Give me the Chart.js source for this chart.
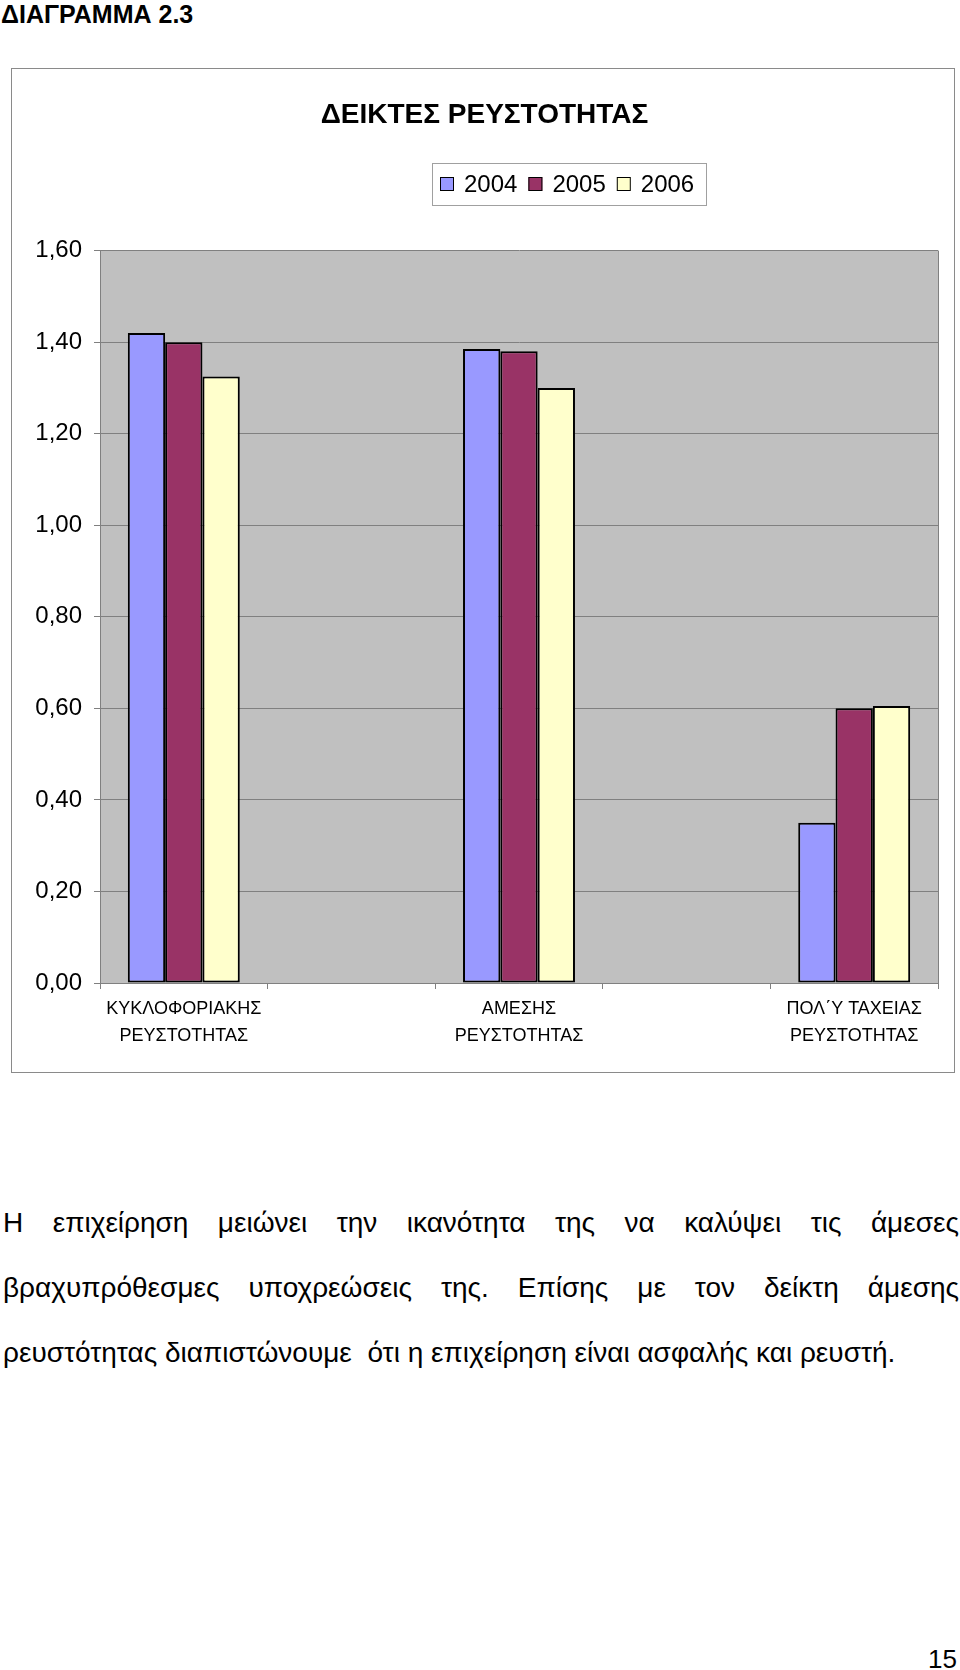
<!DOCTYPE html>
<html lang="el">
<head>
<meta charset="utf-8">
<title>ΔΙΑΓΡΑΜΜΑ 2.3</title>
<script src="https://cdn.jsdelivr.net/npm/chart.js@4.4.1/dist/chart.umd.min.js"></script>
<style>
  html, body { margin: 0; padding: 0; background: #fff; }
  body { width: 960px; height: 1670px; position: relative; font-family: "Liberation Sans", Arial, sans-serif; color: #000; }
  #heading { position: absolute; left: 1px; top: 1px; font-size: 25px; line-height: 26px; font-weight: bold; }
  #chart-box { position: absolute; left: 11px; top: 68px; width: 944px; height: 1005px; border: 1px solid #8a8a8a; box-sizing: border-box; }
  #chart-box canvas { display: block; }
  #text { position: absolute; left: 3px; top: 1190px; width: 956px; font-size: 28px; line-height: 65px; }
  #text .j { text-align: justify; text-align-last: justify; }
  #page { position: absolute; right: 3px; top: 1644px; font-size: 26px; line-height: 30px; }
</style>
</head>
<body>
<div id="heading">ΔΙΑΓΡΑΜΜΑ 2.3</div>
<div id="chart-box"><canvas id="chartLiquidity" width="942" height="1003"></canvas></div>
<div id="text">
  <div class="j">Η επιχείρηση μειώνει την ικανότητα της να καλύψει τις άμεσες</div>
  <div class="j">βραχυπρόθεσμες υποχρεώσεις της. Επίσης με τον δείκτη άμεσης</div>
  <div>ρευστότητας διαπιστώνουμε&nbsp; ότι η επιχείρηση είναι ασφαλής και ρευστή.</div>
</div>
<div id="page">15</div>

<script>
// ============================================================
// Δεδομένα — δείκτες ρευστότητας 2004-2006
// ============================================================
// κενές κατηγορίες ανάμεσα στις ομάδες (όπως στο αρχικό φύλλο)
const categories = [
  ["ΚΥΚΛΟΦΟΡΙΑΚΗΣ", "ΡΕΥΣΤΟΤΗΤΑΣ"],
  "",
  ["ΑΜΕΣΗΣ", "ΡΕΥΣΤΟΤΗΤΑΣ"],
  "",
  ["ΠΟΛ΄Υ ΤΑΧΕΙΑΣ", "ΡΕΥΣΤΟΤΗΤΑΣ"],
];
const years = ["2004", "2005", "2006"];
const values2004 = [1.42, null, 1.385, null, 0.35];
const values2005 = [1.40, null, 1.38, null, 0.60];
const values2006 = [1.325, null, 1.30, null, 0.605];
const yTicks = [0, 0.2, 0.4, 0.6, 0.8, 1.0, 1.2, 1.4, 1.6];

const colors = ["#9999ff", "#993366", "#ffffcc"];
const FONT = "'Liberation Sans', Arial, sans-serif";

// 🔹 γκρι φόντο στην περιοχή σχεδίασης + περίγραμμα
const plotBackground = {
  id: "plotBackground",
  beforeDraw(chart) {
    const { ctx, chartArea: a } = chart;
    ctx.save();
    ctx.fillStyle = "#c0c0c0";
    ctx.fillRect(a.left, a.top, a.right - a.left, a.bottom - a.top);
    ctx.strokeStyle = "#808080";
    ctx.lineWidth = 1;
    ctx.beginPath();
    ctx.moveTo(a.right + 0.5, a.top);
    ctx.lineTo(a.right + 0.5, a.bottom);
    ctx.stroke();
    ctx.restore();
  },
};

// 🔹 υπόμνημα σε πλαίσιο (όπως στο Excel)
const boxLegend = {
  id: "boxLegend",
  afterDraw(chart, args, opts) {
    const { ctx } = chart;
    ctx.save();
    ctx.fillStyle = "#fff";
    ctx.fillRect(opts.x, opts.y, opts.w, opts.h);
    ctx.strokeStyle = "#a0a0a0";
    ctx.lineWidth = 1;
    ctx.strokeRect(opts.x + 0.5, opts.y + 0.5, opts.w, opts.h);
    ctx.font = "24px " + FONT;
    ctx.textBaseline = "middle";
    const cy = opts.y + opts.h / 2;
    let x = opts.x + 8;
    chart.data.datasets.forEach(ds => {
      ctx.fillStyle = ds.backgroundColor;
      ctx.fillRect(x, cy - 7, 14, 14);
      ctx.strokeStyle = "#000";
      ctx.strokeRect(x + 0.5, cy - 6.5, 13, 13);
      ctx.fillStyle = "#000";
      ctx.fillText(ds.label, x + 24, cy + 1);
      x += 24 + ctx.measureText(ds.label).width + 11;
    });
    ctx.restore();
  },
};

const ctx = document.getElementById("chartLiquidity").getContext("2d");

new Chart(ctx, {
  type: "bar",
  data: {
    labels: categories,
    datasets: [values2004, values2005, values2006].map((data, i) => ({
      label: years[i],
      data,
      backgroundColor: colors[i],
      borderColor: "#000",
      borderWidth: 2,
      borderSkipped: false,
      categoryPercentage: 0.668,
      barPercentage: 1.0,
    })),
  },
  options: {
    responsive: false,
    animation: false,
    layout: { padding: { left: 19, right: 16, top: 0, bottom: 15 } },
    plugins: {
      legend: { display: false },
      tooltip: { enabled: false },
      title: {
        display: true,
        text: "ΔΕΙΚΤΕΣ ΡΕΥΣΤΟΤΗΤΑΣ",
        color: "#000",
        font: { family: FONT, size: 28, weight: "bold", lineHeight: 1.2 },
        padding: { top: 29, bottom: 119 },
      },
      boxLegend: { x: 420, y: 94, w: 274, h: 42 },
    },
    scales: {
      x: {
        grid: {
          offset: true,
          drawOnChartArea: false,
          drawTicks: true,
          tickLength: 6,
          color: "#808080",
        },
        border: { display: true, color: "#808080", width: 1 },
        ticks: {
          autoSkip: false,
          maxRotation: 0,
          minRotation: 0,
          padding: 7,
          color: "#000",
          font: { family: FONT, size: 18, lineHeight: 27 / 18 },
        },
      },
      y: {
        min: 0,
        max: 1.6,
        afterFit(scale) { scale.width = 69; },
        afterBuildTicks(scale) { scale.ticks = yTicks.map(v => ({ value: v })); },
        grid: { color: "#808080", tickLength: 6, drawTicks: true },
        border: { display: true, color: "#808080", width: 1 },
        ticks: {
          padding: 12,
          color: "#000",
          font: { family: FONT, size: 24 },
          callback: v => Number(v).toFixed(2).replace(".", ","),
        },
      },
    },
  },
  plugins: [plotBackground, boxLegend],
});
</script>
</body>
</html>
